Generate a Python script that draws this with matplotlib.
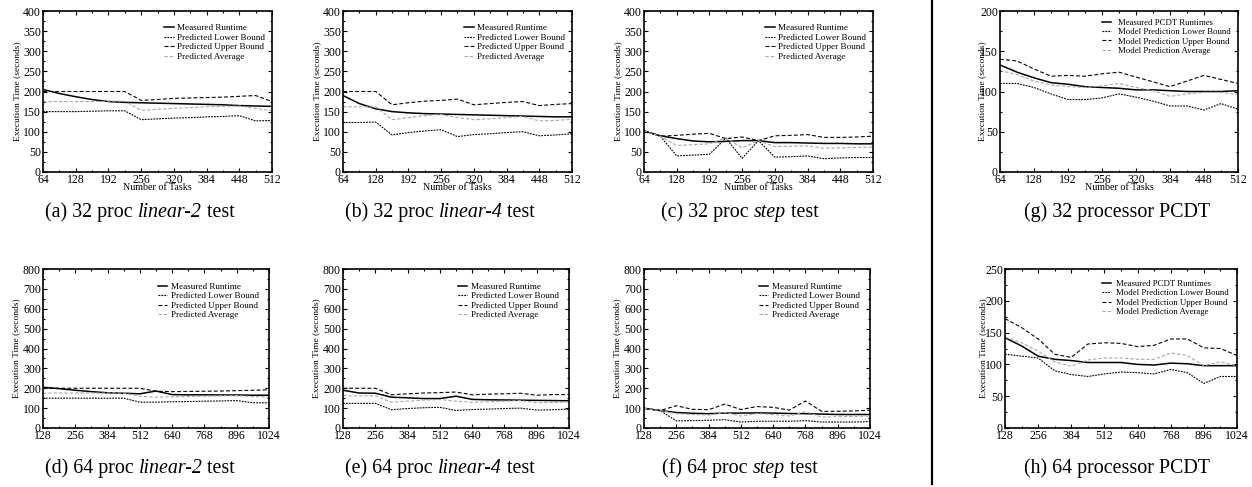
import matplotlib
matplotlib.use("Agg")
import matplotlib.pyplot as plt
from matplotlib.lines import Line2D
from matplotlib.ticker import MultipleLocator, AutoMinorLocator

plt.rcParams['font.family'] = ['Liberation Serif', 'DejaVu Serif']

W, H = 1252, 487

tasks_32 = [64, 96, 128, 160, 192, 224, 256, 288, 320, 352, 384, 416, 448, 480, 512]
tasks_64 = [128, 192, 256, 320, 384, 448, 512, 576, 640, 704, 768, 832, 896, 960, 1024]

# (a) 32 proc linear-2
a_measured = [205, 195, 187, 180, 175, 173, 172, 171, 170, 169, 168, 167, 165, 164, 163]
a_lower = [150, 150, 150, 151, 152, 152, 130, 132, 134, 135, 137, 138, 140, 127, 128]
a_upper = [200, 200, 200, 200, 200, 200, 178, 180, 183, 184, 185, 186, 188, 190, 175]
a_avg = [175, 175, 175, 175, 176, 176, 153, 156, 158, 160, 162, 163, 164, 158, 152]

# (b) 32 proc linear-4
b_measured = [190, 170, 157, 150, 147, 145, 144, 143, 142, 141, 140, 139, 138, 137, 137]
b_lower = [123, 123, 124, 92, 98, 102, 105, 88, 93, 95, 98, 100, 90, 92, 95]
b_upper = [200, 200, 200, 167, 172, 176, 178, 181, 167, 170, 173, 175, 165, 168, 170]
b_avg = [162, 162, 162, 130, 135, 140, 143, 135, 130, 132, 135, 138, 127, 128, 131]

# (c) 32 proc step
c_measured = [102, 90, 83, 77, 75, 76, 78, 78, 73, 73, 72, 71, 71, 70, 70]
c_lower = [102, 89, 40, 42, 44, 84, 34, 78, 37, 38, 40, 33, 35, 36, 36]
c_upper = [102, 89, 91, 94, 96, 83, 87, 78, 90, 91, 93, 86, 86, 87, 89]
c_avg = [102, 89, 66, 68, 70, 85, 60, 78, 63, 64, 65, 59, 60, 61, 62]

# (d) 64 proc linear-2
d_measured = [205, 198, 190, 183, 177, 175, 172, 186, 168, 167, 167, 166, 166, 165, 165]
d_lower = [150, 150, 150, 150, 150, 150, 130, 130, 132, 133, 135, 136, 138, 127, 127]
d_upper = [200, 200, 200, 200, 200, 200, 200, 185, 183, 184, 185, 186, 188, 190, 192]
d_avg = [176, 176, 176, 176, 176, 176, 160, 155, 157, 158, 160, 162, 163, 158, 155]

# (e) 64 proc linear-4
e_measured = [190, 176, 175, 155, 152, 148, 148, 160, 144, 142, 141, 140, 139, 138, 137]
e_lower = [124, 124, 124, 92, 98, 102, 104, 88, 93, 95, 98, 100, 90, 92, 95]
e_upper = [200, 200, 200, 167, 172, 176, 178, 181, 167, 170, 172, 175, 165, 168, 168]
e_avg = [162, 162, 162, 130, 135, 140, 143, 135, 130, 132, 135, 138, 127, 128, 131]

# (f) 64 proc step
f_measured = [99, 88, 78, 74, 72, 75, 75, 76, 75, 73, 72, 70, 68, 68, 68]
f_lower = [99, 88, 36, 37, 39, 42, 30, 34, 34, 34, 37, 30, 30, 30, 32]
f_upper = [99, 88, 112, 94, 92, 120, 93, 108, 104, 90, 136, 84, 84, 86, 90]
f_avg = [99, 88, 72, 68, 65, 78, 60, 72, 68, 60, 82, 55, 57, 58, 60]

# (g) 32 processor PCDT
g_measured = [133, 124, 117, 111, 109, 106, 105, 104, 102, 102, 101, 100, 100, 100, 101]
g_lower = [110, 110, 105, 97, 90, 90, 92, 97, 93, 88, 82, 82, 77, 85, 78]
g_upper = [140, 138, 128, 119, 120, 119, 122, 124, 118, 112, 106, 113, 120, 115, 110]
g_avg = [126, 121, 113, 108, 106, 105, 107, 110, 105, 101, 94, 97, 99, 99, 96]

# (h) 64 processor PCDT
h_measured = [142, 129, 113, 108, 106, 103, 103, 103, 100, 99, 102, 101, 98, 98, 98]
h_lower = [116, 113, 110, 90, 84, 81, 85, 88, 87, 85, 92, 87, 70, 81, 81]
h_upper = [172, 158, 140, 116, 111, 132, 134, 133, 128, 130, 140, 140, 126, 125, 114]
h_avg = [143, 134, 121, 104, 97, 107, 110, 110, 108, 108, 118, 114, 98, 104, 98]

synthetic_labels = ["Measured Runtime", "Predicted Lower Bound",
                    "Predicted Upper Bound", "Predicted Average"]
pcdt_labels = ["Measured PCDT Runtimes", "Model Prediction Lower Bound",
               "Model Prediction Upper Bound", "Model Prediction Average"]

fig = plt.figure(figsize=(W / 100, H / 100), dpi=100)


def axes_px(x0, x1, y0, y1):
    return fig.add_axes([x0 / W, 1 - y1 / H, (x1 - x0) / W, (y1 - y0) / H])


STYLES = [
    dict(color='black', lw=1.1, ls='-'),
    dict(color='black', lw=0.8, ls=(0, (1.6, 1.0))),
    dict(color='black', lw=0.8, ls=(0, (3.5, 2.0))),
    dict(color='#a8a8a8', lw=0.8, ls=(0, (3.0, 1.8))),
]


def panel(rect, xs, series, labels, xmax, xstep, ymax, ystep, ylab_x,
          legend_xy, textpad=0.35, legend_size=6.6, xlabel=True):
    ax = axes_px(*rect)
    for ys, st, lab in zip(series, STYLES, labels):
        ax.plot(xs, ys, label=lab, **st)
    ax.set_xlim(xs[0], xmax)
    ax.set_ylim(0, ymax)
    ax.xaxis.set_major_locator(MultipleLocator(xstep))
    ax.xaxis.set_minor_locator(AutoMinorLocator(2))
    ax.yaxis.set_major_locator(MultipleLocator(ystep))
    ax.yaxis.set_minor_locator(AutoMinorLocator(2))
    ax.tick_params(which='both', direction='in', top=True, right=True,
                   labelsize=8.5, pad=1.5, width=0.8)
    ax.tick_params(which='major', length=3)
    ax.tick_params(which='minor', length=1.5)
    for s in ax.spines.values():
        s.set_linewidth(1.2)
    ax.set_ylabel("Execution Time (seconds)", fontsize=6.8)
    ax.yaxis.set_label_coords(ylab_x, 0.5)
    if xlabel:
        ax.set_xlabel("Number of Tasks", fontsize=7.2)
        ax.xaxis.set_label_coords(0.5, -0.07)
    ax.legend(loc='upper left', bbox_to_anchor=legend_xy, frameon=False,
              fontsize=legend_size, handlelength=1.0, handletextpad=textpad,
              labelspacing=0.12, borderpad=0, borderaxespad=0)
    return ax


top = (11, 172)
bot = (269, 428)

panel((43, 272) + top, tasks_32, [a_measured, a_lower, a_upper, a_avg],
      synthetic_labels, 512, 64, 400, 50, -0.095, (0.53, 0.92))
panel((343, 572) + top, tasks_32, [b_measured, b_lower, b_upper, b_avg],
      synthetic_labels, 512, 64, 400, 50, -0.095, (0.53, 0.92))
panel((644, 873) + top, tasks_32, [c_measured, c_lower, c_upper, c_avg],
      synthetic_labels, 512, 64, 400, 50, -0.095, (0.53, 0.92))
panel((1000, 1238) + top, tasks_32, [g_measured, g_lower, g_upper, g_avg],
      pcdt_labels, 512, 64, 200, 50, -0.06, (0.43, 0.95),
      textpad=0.8, legend_size=6.3)

panel((43, 269) + bot, tasks_64, [d_measured, d_lower, d_upper, d_avg],
      synthetic_labels, 1024, 128, 800, 100, -0.1, (0.51, 0.915), xlabel=False)
panel((343, 569) + bot, tasks_64, [e_measured, e_lower, e_upper, e_avg],
      synthetic_labels, 1024, 128, 800, 100, -0.1, (0.51, 0.915), xlabel=False)
panel((644, 870) + bot, tasks_64, [f_measured, f_lower, f_upper, f_avg],
      synthetic_labels, 1024, 128, 800, 100, -0.1, (0.51, 0.915), xlabel=False)
panel((1005, 1237) + bot, tasks_64, [h_measured, h_lower, h_upper, h_avg],
      pcdt_labels, 1024, 128, 250, 50, -0.075, (0.42, 0.93),
      textpad=0.6, legend_size=6.3, xlabel=False)

# vertical rule between the synthetic tests and the PCDT runs
fig.add_artist(Line2D([932 / W, 932 / W], [1.0, 1 - 484 / H],
                      transform=fig.transFigure, color='black', lw=1.6))

captions = [
    (140, 210, [("(a) 32 proc ", False), ("linear-2", True), (" test", False)]),
    (440, 210, [("(b) 32 proc ", False), ("linear-4", True), (" test", False)]),
    (740, 210, [("(c) 32 proc ", False), ("step", True), (" test", False)]),
    (1117, 210, [("(g) 32 processor PCDT", False)]),
    (140, 466, [("(d) 64 proc ", False), ("linear-2", True), (" test", False)]),
    (440, 466, [("(e) 64 proc ", False), ("linear-4", True), (" test", False)]),
    (740, 466, [("(f) 64 proc ", False), ("step", True), (" test", False)]),
    (1117, 466, [("(h) 64 processor PCDT", False)]),
]

renderer = fig.canvas.get_renderer()
CAP_SIZE = 14.4
for cx, cy, parts in captions:
    texts = []
    for s, it in parts:
        t = fig.text(0, 1 - cy / H, s, fontsize=CAP_SIZE,
                     fontstyle='italic' if it else 'normal',
                     va='center_baseline', ha='left')
        texts.append(t)
    widths = [t.get_window_extent(renderer).width for t in texts]
    x = cx - sum(widths) / 2
    for t, w in zip(texts, widths):
        t.set_x(x / W)
        x += w

fig.savefig("out.png", dpi=100)
